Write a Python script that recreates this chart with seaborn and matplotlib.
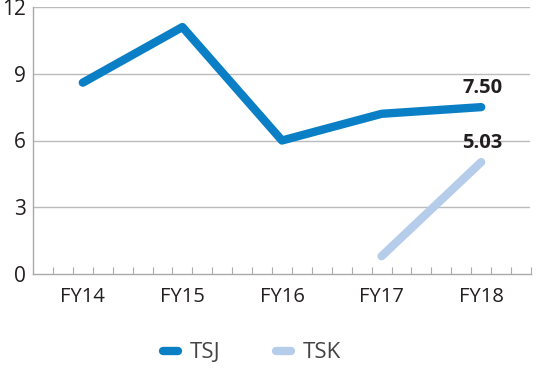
import matplotlib
matplotlib.use("Agg")
import matplotlib.pyplot as plt
from matplotlib.lines import Line2D
from matplotlib.ticker import FixedLocator
import seaborn as sns
import pandas as pd

categories = ["FY14", "FY15", "FY16", "FY17", "FY18"]
tsj_values = [8.6, 11.1, 6.0, 7.2, 7.50]
tsk_categories = ["FY17", "FY18"]
tsk_values = [0.8, 5.03]
y_ticks = [0, 3, 6, 9, 12]

sns.set_theme(style="white")
plt.rcParams["font.family"] = ["Open Sans", "DejaVu Sans"]

c_tsj = "#0a7fc6"
c_tsk = "#b5cdeb"
txt = "#231f20"

df = pd.DataFrame({
    "FY": categories + tsk_categories,
    "value": tsj_values + tsk_values,
    "series": ["TSJ"] * len(tsj_values) + ["TSK"] * len(tsk_values),
})
df["x"] = df["FY"].map({c: i for i, c in enumerate(categories)})

fig = plt.figure(figsize=(5.45, 3.75), dpi=100)
ax = fig.add_axes([33 / 545, 1 - 274 / 375, (531 - 33) / 545, (274 - 7) / 375])

sns.lineplot(data=df, x="x", y="value", hue="series",
             palette={"TSJ": c_tsj, "TSK": c_tsk}, linewidth=6,
             solid_capstyle="round", legend=False, ax=ax, sort=False)

ax.set_xlim(-0.5, 4.5)
ax.set_ylim(0, 12)
ax.set_yticks(y_ticks)
ax.set_xticks(range(len(categories)))
ax.set_xticklabels(categories)
ax.xaxis.set_minor_locator(FixedLocator([-0.5 + 0.2 * k for k in range(1, 26)]))
ax.tick_params(axis="x", which="major", length=0, pad=9, labelsize=14.5, labelcolor=txt)
ax.tick_params(axis="x", which="minor", length=5, direction="in", color="#aaaaaa", width=0.8, bottom=True)
ax.tick_params(axis="y", length=0, pad=5, labelsize=15, labelcolor=txt)
ax.set_xlabel("")
ax.set_ylabel("")

for y in y_ticks[1:]:
    ax.axhline(y, color="#bbbbbb", linewidth=1.0, xmax=(529 - 33) / (531 - 33), zorder=0)

for s in ["top", "right"]:
    ax.spines[s].set_visible(False)
for s in ["left", "bottom"]:
    ax.spines[s].set_color("#aaaaaa")
    ax.spines[s].set_linewidth(1.0)

ax.annotate(f"{tsj_values[-1]:.2f}", (4, tsj_values[-1]), xytext=(1, 10),
            textcoords="offset points", ha="center", va="baseline",
            fontsize=14.5, fontweight="bold", color=txt)
ax.annotate(f"{tsk_values[-1]:.2f}", (4, tsk_values[-1]), xytext=(1, 10),
            textcoords="offset points", ha="center", va="baseline",
            fontsize=14.5, fontweight="bold", color=txt)

handles = [Line2D([], [], color=c_tsj, linewidth=6, solid_capstyle="round"),
           Line2D([], [], color=c_tsk, linewidth=6, solid_capstyle="round")]
leg = fig.legend(handles, ["TSJ", "TSK"], loc="center", bbox_to_anchor=(0.462, 1 - 353 / 375),
                 ncol=2, frameon=False, fontsize=16, handlelength=0.7,
                 columnspacing=2.5, handletextpad=0.5)
for t in leg.get_texts():
    t.set_color("#444444")

fig.savefig("out.png", dpi=100)
